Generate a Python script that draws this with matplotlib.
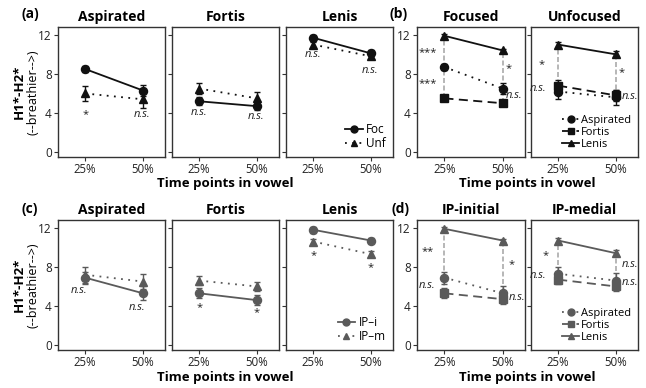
import matplotlib
matplotlib.use("Agg")
import matplotlib.pyplot as plt
from matplotlib.lines import Line2D

plt.rcParams['font.family'] = ['Open Sans', 'DejaVu Sans']

# ---------------- data ----------------
time_labels = ['25%', '50%']
y_ticks = [0, 4, 8, 12]

# (a) focus effect by stop type (black)
a_titles = ['Aspirated', 'Fortis', 'Lenis']
a_foc = [[8.5, 6.3], [5.2, 4.7], [11.7, 10.1]]
a_foc_err = [[0.3, 0.6], [0.4, 0.4], [0.3, 0.3]]
a_unf = [[6.0, 5.4], [6.5, 5.5], [11.0, 9.8]]
a_unf_err = [[0.8, 0.9], [0.6, 0.6], [0.3, 0.3]]
a_annot = [[('*', 1, 3.8), ('n.s.', 1.98, 3.8)],
           [('n.s.', 1.0, 4.1), ('n.s.', 1.98, 3.6)],
           [('n.s.', 1.0, 10.0), ('n.s.', 1.98, 8.4)]]
a_legend = ['Foc', 'Unf']

# (b) stop types within focus condition (black)
b_titles = ['Focused', 'Unfocused']
b_asp = [[8.7, 6.5], [6.2, 5.6]]
b_asp_err = [[0.3, 0.6], [0.8, 0.8]]
b_for = [[5.5, 5.0], [6.8, 5.8]]
b_for_err = [[0.3, 0.3], [0.6, 0.6]]
b_len = [[11.9, 10.4], [11.0, 10.0]]
b_len_err = [[0.2, 0.2], [0.3, 0.3]]
b_annot = [[('***', 0.72, 10.2), ('***', 0.72, 7.0), ('*', 2.1, 8.5), ('n.s.', 2.2, 5.8)],
           [('*', 0.72, 9.0), ('n.s.', 0.66, 6.5), ('*', 2.1, 8.1), ('n.s.', 2.25, 5.7)]]
b_legend = ['Aspirated', 'Fortis', 'Lenis']

# (c) prosodic position by stop type (gray)
c_titles = ['Aspirated', 'Fortis', 'Lenis']
c_ipi = [[6.9, 5.3], [5.3, 4.6], [11.8, 10.7]]
c_ipi_err = [[0.6, 0.7], [0.5, 0.5], [0.3, 0.3]]
c_ipm = [[7.2, 6.5], [6.6, 6.0], [10.6, 9.3]]
c_ipm_err = [[0.8, 0.8], [0.5, 0.5], [0.3, 0.3]]
c_annot = [[('n.s.', 0.9, 5.6), ('n.s.', 1.9, 3.8)],
           [('*', 1.0, 3.8), ('*', 2.0, 3.3)],
           [('*', 1.0, 9.2), ('*', 2.0, 7.9)]]
c_legend = ['IP–i', 'IP–m']

# (d) stop types within prosodic position (gray)
d_titles = ['IP-initial', 'IP-medial']
d_asp = [[6.9, 5.3], [7.3, 6.6]]
d_asp_err = [[0.6, 0.7], [0.7, 0.8]]
d_for = [[5.3, 4.7], [6.7, 6.0]]
d_for_err = [[0.5, 0.5], [0.4, 0.5]]
d_len = [[11.9, 10.7], [10.7, 9.4]]
d_len_err = [[0.2, 0.2], [0.3, 0.3]]
d_annot = [[('**', 0.72, 9.6), ('*', 2.15, 8.2), ('n.s.', 0.7, 6.1), ('n.s.', 2.25, 4.9)],
           [('*', 0.78, 9.2), ('n.s.', 2.25, 8.2), ('n.s.', 0.66, 7.1), ('n.s.', 2.25, 6.4)]]
d_legend = ['Aspirated', 'Fortis', 'Lenis']

panel_labels = ['(a)', '(b)', '(c)', '(d)']
y_label1 = 'H1*-H2*'
y_label2 = '(--breathier-->)'
x_label = 'Time points in vowel'

# ---------------- layout ----------------
W, H = 646, 388
fig = plt.figure(figsize=(W / 100, H / 100), dpi=100)

def px_axes(x0, x1, y0, y1):
    return fig.add_axes([x0 / W, 1 - y1 / H, (x1 - x0) / W, (y1 - y0) / H])

top = (27, 157)
bot = (220, 350)
a_x = [(58, 165), (172, 279), (286, 393)]
b_x = [(417, 525), (531, 638)]

BLACK = '#111111'
GRAY = '#5a5a5a'
CONNECT = '#aaaaaa'
DOT = (0, (1, 3))
DASH = (0, (5, 3))
xs = list(range(1, len(time_labels) + 1))


def style_axis(ax, title, show_labels):
    ax.set_xlim(0.53, 2.38)
    ax.set_ylim(-0.5, 12.8)
    ax.set_xticks(xs)
    ax.set_xticklabels(time_labels, fontsize=8.3, color='#222222')
    ax.set_yticks(y_ticks)
    if show_labels:
        ax.set_yticklabels([str(t) for t in y_ticks], fontsize=8.5, color='#222222')
    else:
        ax.set_yticklabels([])
    ax.tick_params(direction='out', length=3, width=0.8, color='#333333', pad=1.5)
    for s in ax.spines.values():
        s.set_color('#333333')
        s.set_linewidth(1.0)
    ax.set_title(title, fontsize=10, fontweight='bold', pad=4)


def series(ax, y, err, color, ls, marker, ms=5.8):
    ax.errorbar(xs, y, yerr=err, color=color, ls=ls, lw=1.3, marker=marker,
                ms=ms, capsize=2.2, elinewidth=1.0, capthick=1.0, zorder=3)
    return Line2D([], [], color=color, ls=ls, lw=1.3, marker=marker, ms=ms - 0.8)


def annotate(ax, items):
    for txt, x, y in items:
        style = 'italic' if txt == 'n.s.' else 'normal'
        ax.text(x, y, txt, fontsize=8, style=style, ha='center', va='center',
                color='#222222', zorder=4)


def focus_group(ax_list, titles, s1, e1, s2, e2, annots, labels, color):
    for i, ax in enumerate(ax_list):
        style_axis(ax, titles[i], i == 0)
        h1 = series(ax, s1[i], e1[i], color, '-', 'o')
        h2 = series(ax, s2[i], e2[i], color, DOT, '^')
        annotate(ax, annots[i])
    ax_list[-1].legend([h1, h2], labels, loc='lower right', frameon=False, fontsize=8.5,
                       handlelength=1.5, handletextpad=0.3, labelspacing=0.1,
                       borderaxespad=0.2)


def stop_group(ax_list, titles, asp, asp_e, fort, fort_e, len_, len_e, annots, labels, color):
    for i, ax in enumerate(ax_list):
        style_axis(ax, titles[i], i == 0)
        low = [min(asp[i][k], fort[i][k]) for k in range(len(xs))]
        for k, x in enumerate(xs):
            ax.plot([x, x], [low[k], len_[i][k]], color=CONNECT, ls=(0, (3, 1.5)),
                    lw=1.2, zorder=1)
        h1 = series(ax, asp[i], asp_e[i], color, DOT, 'o')
        h2 = series(ax, fort[i], fort_e[i], color, DASH, 's')
        h3 = series(ax, len_[i], len_e[i], color, '-', '^')
        annotate(ax, annots[i])
    ax_list[-1].legend([h1, h2, h3], labels, loc='lower right', frameon=False, fontsize=8,
                       handlelength=1.5, handletextpad=0.2, labelspacing=0.1,
                       borderaxespad=0.2)


ax_a = [px_axes(x0, x1, *top) for x0, x1 in a_x]
ax_b = [px_axes(x0, x1, *top) for x0, x1 in b_x]
ax_c = [px_axes(x0, x1, *bot) for x0, x1 in a_x]
ax_d = [px_axes(x0, x1, *bot) for x0, x1 in b_x]

focus_group(ax_a, a_titles, a_foc, a_foc_err, a_unf, a_unf_err, a_annot, a_legend, BLACK)
stop_group(ax_b, b_titles, b_asp, b_asp_err, b_for, b_for_err, b_len, b_len_err, b_annot, b_legend, BLACK)
focus_group(ax_c, c_titles, c_ipi, c_ipi_err, c_ipm, c_ipm_err, c_annot, c_legend, GRAY)
stop_group(ax_d, d_titles, d_asp, d_asp_err, d_for, d_for_err, d_len, d_len_err, d_annot, d_legend, GRAY)

# panel labels
for lab, (px, py) in zip(panel_labels, [(30, 14), (399, 14), (30, 209), (400, 209)]):
    fig.text(px / W, 1 - py / H, lab, fontsize=10, fontweight='bold', ha='center', va='center')

# y labels
for cy in [92, 285]:
    fig.text(19 / W, 1 - cy / H, y_label1, rotation=90, fontsize=9.5, fontweight='bold',
             ha='center', va='center')
    fig.text(33 / W, 1 - cy / H, y_label2, rotation=90, fontsize=9,
             ha='center', va='center')

# x labels
for cx, cy in [(225, 184), (527, 184), (225, 378), (527, 378)]:
    fig.text(cx / W, 1 - cy / H, x_label, fontsize=9.5, fontweight='bold',
             ha='center', va='center')

fig.savefig('out.png', dpi=100)
